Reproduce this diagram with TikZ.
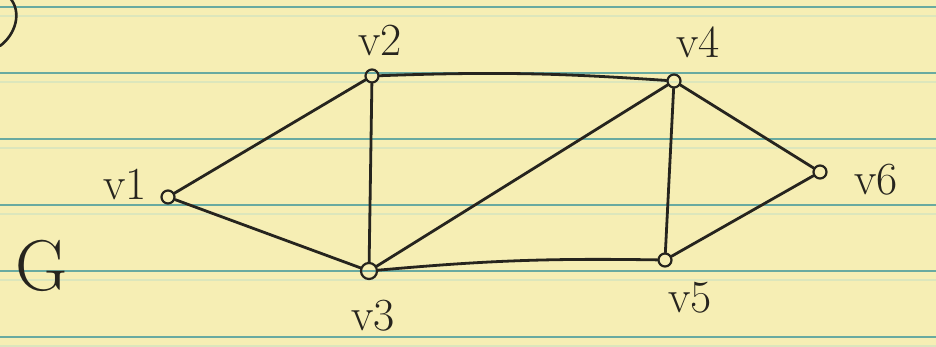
\documentclass[tikz,border=0pt]{standalone}
\definecolor{paper}{RGB}{246,238,180}
\definecolor{rulec}{RGB}{105,170,160}
\definecolor{rulefaint}{RGB}{220,230,188}
\definecolor{ink}{RGB}{38,36,30}
\begin{document}
\begin{tikzpicture}[x=1pt,y=-1pt,
  vert/.style={circle,draw=ink,line width=2.2pt,minimum size=13pt,inner sep=0pt},
  edge/.style={draw=ink,line width=2.8pt,line cap=round},
  lbl/.style={font=\fontsize{46}{46}\selectfont,text=ink,inner sep=0pt},
  rule/.style={draw=rulec,line width=1.8pt},
  faint/.style={draw=rulefaint,line width=1.5pt}]
\fill[paper] (0,0) rectangle (936,347);
\useasboundingbox (0,0) rectangle (936,347);
\foreach \y in {7,73,139,205,271,337} {
  \draw[faint] (0,\y+9) -- (936,\y+9);
  \draw[rule] (0,\y) -- (936,\y);
}
% fragment of a parenthesis at top left
\draw[ink,line width=2.6pt,line cap=round] (10,-2) .. controls (22,12) and (16,34) .. (0,46);
% vertices
\node[vert] (v1) at (168,197) {};
\node[vert] (v2) at (372,76) {};
\node[vert,minimum height=16pt,minimum width=13pt] (v3) at (369,271) {};
\node[vert] (v4) at (674,81) {};
\node[vert] (v5) at (665,260) {};
\node[vert] (v6) at (820,172) {};
% edges
\draw[edge] (v1) -- (v2);
\draw[edge] (v1) -- (v3);
\draw[edge] (v2) -- (v3);
\draw[edge] (v2) to[bend left=3] (v4);
\draw[edge] (v3) -- (v4);
\draw[edge] (v3) to[bend left=3] (v5);
\draw[edge] (v4) -- (v5);
\draw[edge] (v4) -- (v6);
\draw[edge] (v5) -- (v6);
% labels
\node[lbl] (l1) at (125,184) {v1};
\node[lbl] (l2) at (380,40) {v2};
\node[lbl] (l3) at (373,316) {v3};
\node[lbl] (l4) at (698,42) {v4};
\node[lbl] (l5) at (690,298) {v5};
\node[lbl] (l6) at (876,180) {v6};
\node[lbl,font=\fontsize{72}{72}\selectfont] (g) at (42,266) {G};
\end{tikzpicture}
\end{document}
